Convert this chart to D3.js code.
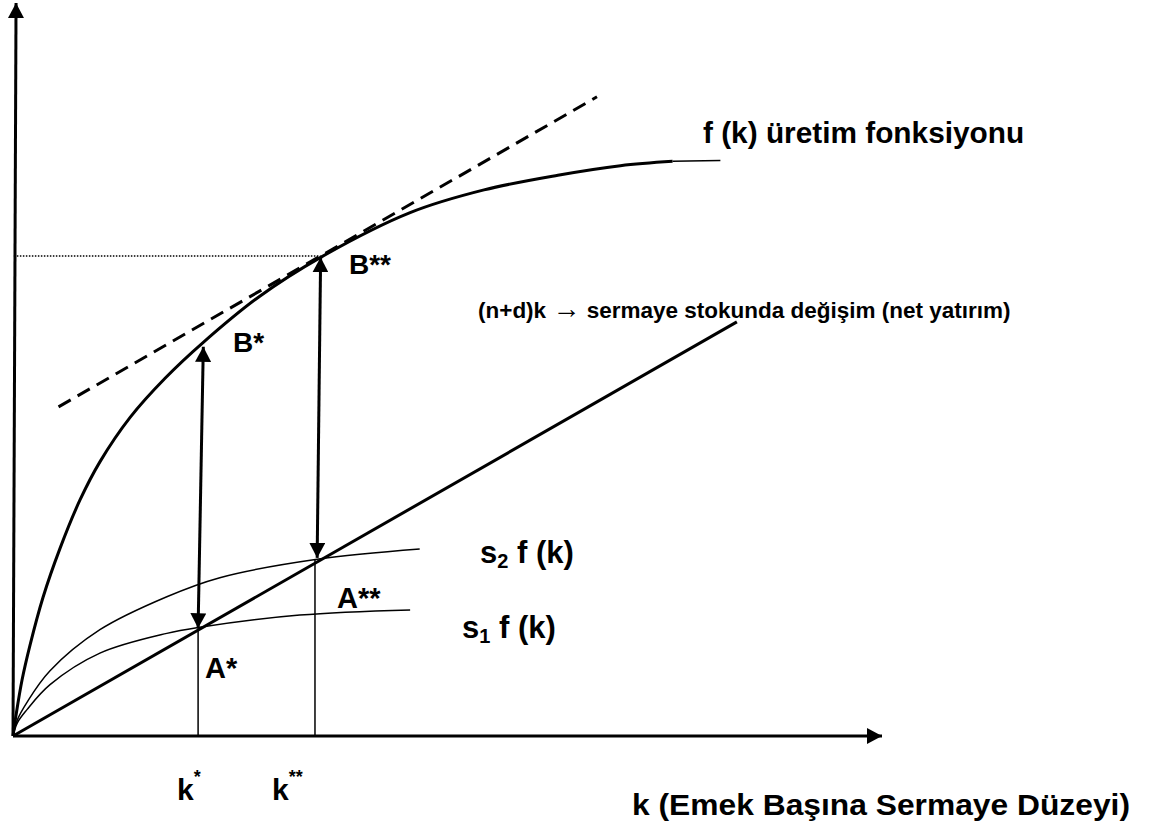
<!DOCTYPE html>
<html>
<head>
<meta charset="utf-8">
<script src="https://cdn.jsdelivr.net/npm/d3@7"></script>
<style>
  body { margin: 0; background: #fff; }
  text { font-family: "Liberation Sans", Arial, sans-serif; font-weight: bold; fill: #000; }
</style>
</head>
<body>
<div id="chart"></div>
<script>
// curves, k on x (0-100), output on y (0-100)
var productionCurve = [[0,0],[0.35,2.86],[1.04,7.64],[1.96,12.4],[3.45,18.9],[5.41,25.6],[7.71,32.2],[10.0,37.4],[13.5,43.5],[17.5,48.8],[21.9,53.7],[28.4,60.0],[35.4,65.3],[45.7,71.4],[54.2,74.5],[62.7,76.5],[69.9,77.8],[75.9,78.4]];
var productionTail = [[75.9,78.4],[81.4,78.5]];
var s2Curve = [[0,0],[0.5,2.2],[1.61,4.6],[4.26,8.9],[10.0,14.5],[17.7,19.0],[23.8,21.6],[35.0,24.1],[46.8,25.5]];
var s1Curve = [[0,0],[0.5,1.8],[1.61,3.6],[4.26,7.0],[10.0,11.3],[17.7,14.0],[21.3,14.8],[33.0,16.5],[45.7,17.2]];
var investLine = [[0,0],[83.3,56.5]];
var tangentLine = [[5.24,44.9],[67.2,87.2]];
var guideLine = [[0.1,65.5],[35.4,65.5]];
var kStarLine = [[21.3,0],[21.3,14.7]];
var kStarStarLine = [[34.75,0],[34.75,24.1]];
var arrowLow = [[21.3,14.7],[21.9,53.1]];
var arrowHigh = [[35.0,24.3],[35.4,65.3]];
var xAxisLine = [[0,0],[100,0]];
var yAxisLine = [[0,0],[0.35,100]];

var width = 1154, height = 827;

var svg = d3.select("#chart").append("svg")
    .attr("width", width)
    .attr("height", height);

var x = d3.scaleLinear().domain([0, 100]).range([13, 882]);
var y = d3.scaleLinear().domain([0, 100]).range([736, 3]);

var defs = svg.append("defs");
defs.append("marker")
    .attr("id", "head")
    .attr("markerUnits", "userSpaceOnUse")
    .attr("markerWidth", 16)
    .attr("markerHeight", 16)
    .attr("refX", 15)
    .attr("refY", 8)
    .attr("orient", "auto-start-reverse")
    .append("path")
    .attr("d", "M0,0 L15,8 L0,16 Z")
    .attr("fill", "#000");

var straight = d3.line().x(d => x(d[0])).y(d => y(d[1]));
var smooth = d3.line().x(d => x(d[0])).y(d => y(d[1])).curve(d3.curveCatmullRom.alpha(0.5));

function draw(data, gen, w, extra) {
    var p = svg.append("path")
        .attr("d", gen(data))
        .attr("fill", "none")
        .attr("stroke", "#000")
        .attr("stroke-width", w);
    if (extra) extra(p);
    return p;
}

// axes
draw(xAxisLine, straight, 3, p => p.attr("marker-end", "url(#head)"));
draw(yAxisLine, straight, 3, p => p.attr("marker-end", "url(#head)"));

// guide lines
draw(guideLine, straight, 1.5, p => p.attr("stroke-dasharray", "1.5,1.5"));
draw(kStarLine, straight, 1.5);
draw(kStarStarLine, straight, 1.5);

// curves
draw(s1Curve, smooth, 1.5);
draw(s2Curve, smooth, 1.5);
draw(investLine, straight, 3);
draw(productionCurve, smooth, 3);
draw(productionTail, straight, 1.5);
draw(tangentLine, straight, 3, p => p.attr("stroke-dasharray", "14,8"));

// double arrows
draw(arrowLow, straight, 3, p => p.attr("marker-start", "url(#head)").attr("marker-end", "url(#head)"));
draw(arrowHigh, straight, 3, p => p.attr("marker-start", "url(#head)").attr("marker-end", "url(#head)"));

// labels
function label(tx, ty, size, txt) {
    return svg.append("text")
        .attr("x", tx)
        .attr("y", ty)
        .style("font-size", size + "px")
        .text(txt);
}

label(703, 143, 29.8, "f (k) üretim fonksiyonu");
label(349, 274, 28, "B**");
label(233, 352, 28, "B*");

var nd = label(478, 318, 22.5, "(n+d)k ");
nd.append("tspan")
    .style("font-weight", "normal")
    .style("font-size", "28px")
    .text("\u2192");
nd.append("tspan").text(" sermaye stokunda değişim (net yatırım)");

label(337, 608, 29, "A**");
label(205, 678, 29, "A*");

var s2 = label(480, 563, 31, "s");
s2.append("tspan").attr("dy", 5).style("font-size", "20px").text("2");
s2.append("tspan").attr("dy", -5).text(" f (k)");

var s1 = label(462, 638, 31, "s");
s1.append("tspan").attr("dy", 5).style("font-size", "20px").text("1");
s1.append("tspan").attr("dy", -5).text(" f (k)");

var ks = label(177, 800, 30, "k");
ks.append("tspan").attr("dy", -17).style("font-size", "18px").text("*");

var kss = label(272, 800, 30, "k");
kss.append("tspan").attr("dy", -17).style("font-size", "18px").text("**");

svg.append("text")
    .attr("x", 632)
    .attr("y", 815)
    .attr("textLength", 498)
    .attr("lengthAdjust", "spacingAndGlyphs")
    .style("font-size", "30px")
    .text("k (Emek Başına Sermaye Düzeyi)");
</script>
</body>
</html>
